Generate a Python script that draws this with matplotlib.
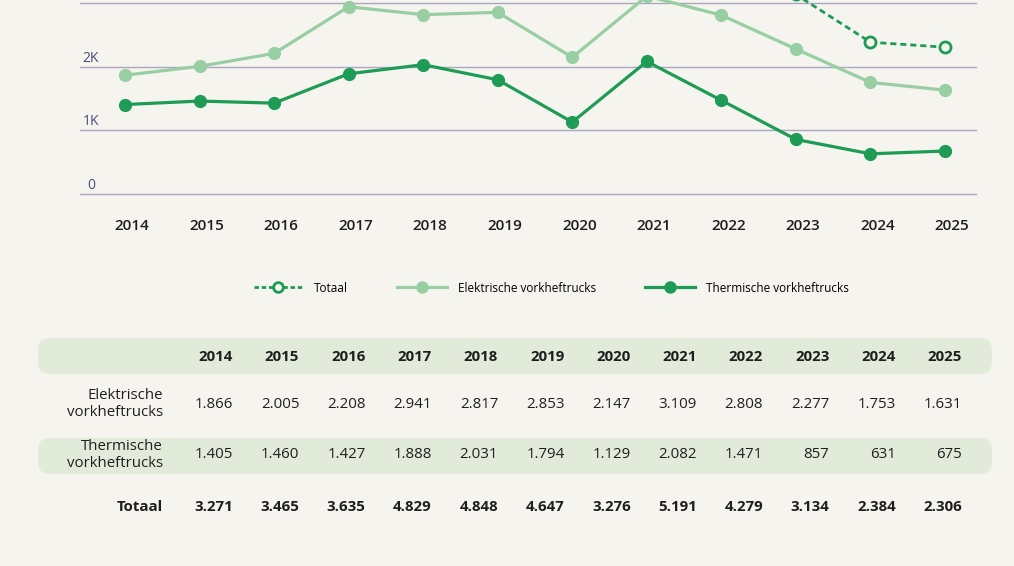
import matplotlib.pyplot as plt
import matplotlib.transforms as mtransforms
from matplotlib.patches import FancyBboxPatch
from matplotlib.lines import Line2D

plt.rcParams['font.family'] = ['Open Sans', 'DejaVu Sans']

years = [2014, 2015, 2016, 2017, 2018, 2019, 2020, 2021, 2022, 2023, 2024, 2025]
elektrisch = [1866, 2005, 2208, 2941, 2817, 2853, 2147, 3109, 2808, 2277, 1753, 1631]
thermisch = [1405, 1460, 1427, 1888, 2031, 1794, 1129, 2082, 1471, 857, 631, 675]
totaal = [3271, 3465, 3635, 4829, 4848, 4647, 3276, 5191, 4279, 3134, 2384, 2306]
row_labels = ["Elektrische\nvorkheftrucks", "Thermische\nvorkheftrucks", "Totaal"]
y_ticks = [0, 1000, 2000, 3000]
y_tick_labels = ["0", "1K", "2K", "3K"]

BG = "#f6f4ef"
LIGHT = "#98cfa2"
DARK = "#1e9b55"
GRID = "#aaa6c2"
BAND = "#e2ebda"
TXT = "#1e1e1e"

W, H = 1014, 566
fig = plt.figure(figsize=(W / 100, H / 100), dpi=100, facecolor=BG)

def fx(px):
    return px / W

def fy(py):
    return 1 - py / H

# chart area
ax = fig.add_axes([fx(80), fy(194), fx(976) - fx(80), fy(0) - fy(194)])
ax.set_facecolor(BG)
px_per_year = (945 - 125) / 11
ax.set_xlim(2014 - 45 / px_per_year, 2025 + 31 / px_per_year)
ax.set_ylim(0, 3000 * 194 / 191)

for v in y_ticks:
    ax.axhline(v, color=GRID, lw=1, zorder=1, clip_on=False)
for v, lab in zip(y_ticks[:-1], y_tick_labels[:-1]):
    ax.text(2014 - 34 / px_per_year, v + 15, lab, fontsize=10, color="#4b4a7a",
            ha="center", va="bottom")

ax.plot(years, totaal, color=DARK, lw=2, dashes=(2.2, 1.4), marker="o", ms=8,
        mfc=BG, mec=DARK, mew=2, zorder=4, label="Totaal")
ax.plot(years, elektrisch, color=LIGHT, lw=2.3, marker="o", ms=8.5,
        zorder=3, label="Elektrische vorkheftrucks")
ax.plot(years, thermisch, color=DARK, lw=2.3, marker="o", ms=8.5,
        zorder=5, label="Thermische vorkheftrucks")

for s in ax.spines.values():
    s.set_visible(False)
ax.set_yticks([])
ax.set_xticks(years)
ax.set_xticklabels([str(y) for y in years], fontsize=11, color=TXT, fontweight="semibold")
ax.tick_params(axis="x", length=0, pad=18)
offset = mtransforms.ScaledTranslation(7 / 100, 0, fig.dpi_scale_trans)
for lab in ax.get_xticklabels():
    lab.set_transform(lab.get_transform() + offset)

# legend
handles = [
    Line2D([], [], color=DARK, lw=2, dashes=(1.6, 1.0), marker="o", ms=7, mfc=BG, mec=DARK, mew=2),
    Line2D([], [], color=LIGHT, lw=2.3, marker="o", ms=8),
    Line2D([], [], color=DARK, lw=2.3, marker="o", ms=8),
]
fig.legend(handles, ["Totaal", "Elektrische vorkheftrucks", "Thermische vorkheftrucks"],
           loc="center", bbox_to_anchor=(fx(551), fy(288)), ncol=3, frameon=False,
           fontsize=8.5, handlelength=4.2, handletextpad=0.9, columnspacing=4.2)

# table
for top, bot in [(338, 374), (438, 474)]:
    fig.patches.append(FancyBboxPatch((fx(38), fy(bot)), fx(992) - fx(38), fy(top) - fy(bot),
                                      boxstyle="round,pad=0,rounding_size=0.012",
                                      mutation_aspect=W / H,
                                      transform=fig.transFigure, facecolor=BAND,
                                      edgecolor="none", zorder=0))

col_right = [233 + i * (962 - 233) / 11 for i in range(len(years))]
for x, yr in zip(col_right, years):
    fig.text(fx(x), fy(357), str(yr), ha="right", va="center", fontsize=10.8,
             fontweight="bold", color=TXT)

def fmt(v):
    return f"{v:,}".replace(",", ".")

rows = [(elektrisch, 404, "normal"), (thermisch, 455, "normal"), (totaal, 507, "bold")]
for (vals, ypx, wt), lab in zip(rows, row_labels):
    fig.text(fx(163), fy(ypx), lab, ha="right", va="center", fontsize=10.8,
             fontweight=wt, color=TXT, linespacing=1.1)
    for x, v in zip(col_right, vals):
        fig.text(fx(x), fy(ypx), fmt(v), ha="right", va="center", fontsize=10.8,
                 fontweight=wt, color=TXT)

fig.savefig("out.png", dpi=100, facecolor=BG)
